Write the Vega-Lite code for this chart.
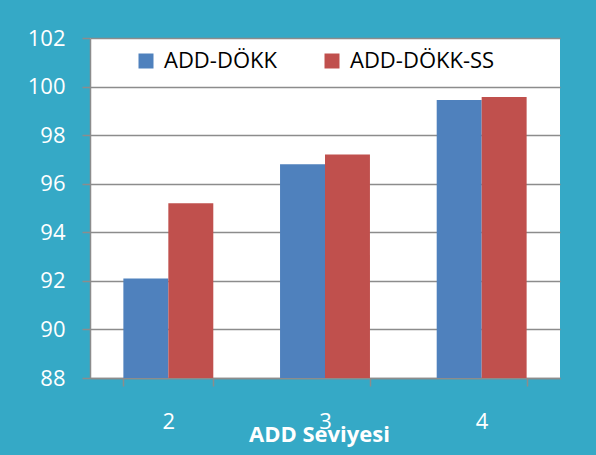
{
  "$schema": "https://vega.github.io/schema/vega-lite/v6.json",
  "width": 470,
  "height": 340,
  "autosize": {"type": "none"},
  "padding": {"left": 90, "top": 38, "right": 36, "bottom": 77},
  "background": "#35a9c6",
  "config": {
    "font": "Open Sans",
    "view": {"fill": "white", "stroke": null},
    "axis": {
      "labelFont": "Open Sans",
      "labelColor": "white",
      "domainColor": "#8c8c8c",
      "domainWidth": 1.5,
      "tickColor": "#8c8c8c",
      "tickWidth": 1.5,
      "gridColor": "#8c8c8c",
      "gridWidth": 1.5
    }
  },
  "data": {
    "values": [
      {"level": "2", "series": "ADD-DÖKK", "value": 92.1},
      {"level": "2", "series": "ADD-DÖKK-SS", "value": 95.2},
      {"level": "3", "series": "ADD-DÖKK", "value": 96.8},
      {"level": "3", "series": "ADD-DÖKK-SS", "value": 97.2},
      {"level": "4", "series": "ADD-DÖKK", "value": 99.45},
      {"level": "4", "series": "ADD-DÖKK-SS", "value": 99.57}
    ]
  },
  "mark": {"type": "bar"},
  "encoding": {
    "x": {
      "field": "level",
      "type": "nominal",
      "sort": ["2", "3", "4"],
      "scale": {"paddingInner": 0.426, "paddingOuter": 0.213},
      "axis": {
        "title": "ADD Seviyesi",
        "titleFont": "Open Sans",
        "titleFontSize": 22,
        "titleFontWeight": "bold",
        "titleColor": "white",
        "titleBaseline": "middle",
        "titleX": 229,
        "titleY": 56,
        "labelAngle": 0,
        "labelFontSize": 22,
        "labelBaseline": "middle",
        "labelPadding": 35,
        "tickBand": "extent",
        "tickSize": 8,
        "grid": false
      }
    },
    "xOffset": {
      "field": "series",
      "type": "nominal",
      "sort": ["ADD-DÖKK", "ADD-DÖKK-SS"],
      "scale": {"paddingInner": 0, "paddingOuter": 0}
    },
    "y": {
      "field": "value",
      "type": "quantitative",
      "scale": {"domain": [88, 102], "nice": false, "zero": false},
      "axis": {
        "title": null,
        "values": [88, 90, 92, 94, 96, 98, 100, 102],
        "labelFontSize": 22,
        "labelPadding": 17,
        "tickSize": 8,
        "grid": true
      }
    },
    "y2": {"datum": 88},
    "color": {
      "field": "series",
      "type": "nominal",
      "sort": ["ADD-DÖKK", "ADD-DÖKK-SS"],
      "scale": {"range": ["#4f81bd", "#c0504d"]},
      "legend": {
        "title": null,
        "orient": "none",
        "direction": "horizontal",
        "legendX": 45,
        "legendY": 12,
        "padding": 0,
        "symbolType": "square",
        "symbolSize": 225,
        "symbolStrokeWidth": 0,
        "symbolOpacity": 1,
        "labelFont": "Open Sans",
        "labelFontSize": 22,
        "labelColor": "black",
        "labelOffset": 7,
        "columnPadding": 44
      }
    }
  }
}
